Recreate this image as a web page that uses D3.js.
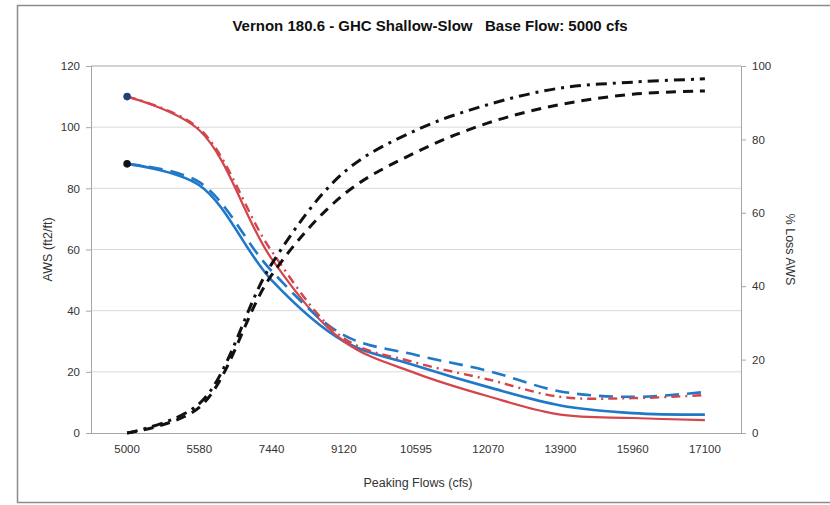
<!DOCTYPE html>
<html>
<head>
<meta charset="utf-8">
<script src="https://cdn.jsdelivr.net/npm/d3@7"></script>
<style>
  body { margin: 0; background: #fff; }
  text { font-family: "Liberation Sans", Arial, sans-serif; }
</style>
</head>
<body>
<div id="chart"></div>
<script>
// categories on the x axis
const flows = ['5000', '5580', '7440', '9120', '10595', '12070', '13900', '15960', '17100'];

// AWS (left axis)
const awsRedSolid = [110, 99, 57, 30, 19.5, 12, 6, 4.9, 4.2];
const awsRedDashDot = [110, 99.5, 59.5, 31, 23, 17.5, 11.8, 11.4, 12.4];
const awsBlueSolid = [88, 81, 50, 30, 22, 15, 9, 6.5, 6];
const awsBlueDash = [88, 82, 53, 32, 25.5, 20.3, 13.6, 11.8, 13.4];

// % loss AWS (right axis)
const lossDash = [0, 7, 43, 65, 76.5, 84.5, 89.5, 92.3, 93.2];
const lossDashDot = [0, 8, 46, 71, 82.5, 89.5, 94, 95.6, 96.5];

const leftTicks = [0, 20, 40, 60, 80, 100, 120];
const rightTicks = [0, 20, 40, 60, 80, 100];

const W = 830, H = 505;
const plot = {left: 91, right: 741, top: 66, bottom: 433};

const svg = d3.select('#chart')
    .append('svg')
    .attr('width', W)
    .attr('height', H);

// outer frame
svg.append('rect')
    .attr('x', 17.5).attr('y', 5.5)
    .attr('width', 830).attr('height', 497)
    .attr('fill', '#fff')
    .attr('stroke', '#8c8c8c')
    .attr('stroke-width', 1.5);

const x = d3.scaleBand()
    .domain(flows)
    .range([plot.left, plot.right]);

const yL = d3.scaleLinear()
    .domain([0, 120])
    .range([plot.bottom, plot.top]);

const yR = d3.scaleLinear()
    .domain([0, 100])
    .range([plot.bottom, plot.top]);

const cx = d => x(d) + x.bandwidth() / 2;

// gridlines
svg.append('g')
    .selectAll('line')
    .data(leftTicks.slice(1))
    .join('line')
    .attr('x1', plot.left).attr('x2', plot.right)
    .attr('y1', d => yL(d)).attr('y2', d => yL(d))
    .attr('stroke', d => d === 120 ? '#a6a6a6' : '#d9d9d9')
    .attr('stroke-width', 1);

// left axis
const leftAxis = svg.append('g')
    .attr('transform', `translate(${plot.left},0)`)
    .call(d3.axisLeft(yL).tickValues(leftTicks).tickSize(5).tickPadding(6));
leftAxis.select('.domain').attr('stroke', '#a6a6a6');
leftAxis.selectAll('.tick line').attr('stroke', '#a6a6a6');
leftAxis.selectAll('text').attr('fill', '#333').style('font-size', '11.5px');

// right axis
const rightAxis = svg.append('g')
    .attr('transform', `translate(${plot.right},0)`)
    .call(d3.axisRight(yR).tickValues(rightTicks).tickSize(5).tickPadding(6));
rightAxis.select('.domain').attr('stroke', '#a6a6a6');
rightAxis.selectAll('.tick line').attr('stroke', '#a6a6a6');
rightAxis.selectAll('text').attr('fill', '#333').style('font-size', '11.5px');

// bottom axis
const bottomAxis = svg.append('g')
    .attr('transform', `translate(0,${plot.bottom})`)
    .call(d3.axisBottom(x).tickSize(0).tickPadding(12));
bottomAxis.select('.domain').attr('stroke', '#a6a6a6');
bottomAxis.selectAll('text').attr('fill', '#333').style('font-size', '11.5px');

// lines
const lineL = d3.line()
    .x((d, i) => cx(flows[i]))
    .y(d => yL(d))
    .curve(d3.curveCatmullRom);

const lineR = d3.line()
    .x((d, i) => cx(flows[i]))
    .y(d => yR(d))
    .curve(d3.curveCatmullRom);

const series = [
    {data: awsBlueSolid, gen: lineL, color: '#1f78c8', w: 2.6, dash: null},
    {data: awsRedSolid, gen: lineL, color: '#d4454b', w: 2.2, dash: null},
    {data: awsBlueDash, gen: lineL, color: '#1f78c8', w: 2.6, dash: '14,8'},
    {data: awsRedDashDot, gen: lineL, color: '#d4454b', w: 2.4, dash: '9,5,2,5'},
    {data: lossDash, gen: lineR, color: '#111', w: 3, dash: '10,7'},
    {data: lossDashDot, gen: lineR, color: '#111', w: 3, dash: '11,6,3,6'}
];

svg.append('g')
    .selectAll('path')
    .data(series)
    .join('path')
    .attr('fill', 'none')
    .attr('stroke', d => d.color)
    .attr('stroke-width', d => d.w)
    .attr('stroke-dasharray', d => d.dash)
    .attr('d', d => d.gen(d.data));

// start markers
svg.append('circle')
    .attr('cx', cx(flows[0])).attr('cy', yL(awsRedSolid[0]))
    .attr('r', 3.8).attr('fill', '#23407a');
svg.append('circle')
    .attr('cx', cx(flows[0])).attr('cy', yL(awsBlueSolid[0]))
    .attr('r', 3.8).attr('fill', '#111');

// title and axis titles
svg.append('text')
    .attr('x', 430).attr('y', 31)
    .attr('text-anchor', 'middle')
    .style('font-size', '15px')
    .style('font-weight', 'bold')
    .attr('fill', '#111')
    .style('white-space', 'pre')
    .text('Vernon 180.6 - GHC Shallow-Slow   Base Flow: 5000 cfs');

svg.append('text')
    .attr('transform', `translate(52,${(plot.top + plot.bottom) / 2}) rotate(-90)`)
    .attr('text-anchor', 'middle')
    .style('font-size', '12.5px')
    .attr('fill', '#333')
    .text('AWS (ft2/ft)');

svg.append('text')
    .attr('transform', `translate(786,${(plot.top + plot.bottom) / 2}) rotate(90)`)
    .attr('text-anchor', 'middle')
    .style('font-size', '12.5px')
    .attr('fill', '#333')
    .text('% Loss AWS');

svg.append('text')
    .attr('x', 418).attr('y', 487)
    .attr('text-anchor', 'middle')
    .style('font-size', '12.5px')
    .attr('fill', '#333')
    .text('Peaking Flows (cfs)');
</script>
</body>
</html>
